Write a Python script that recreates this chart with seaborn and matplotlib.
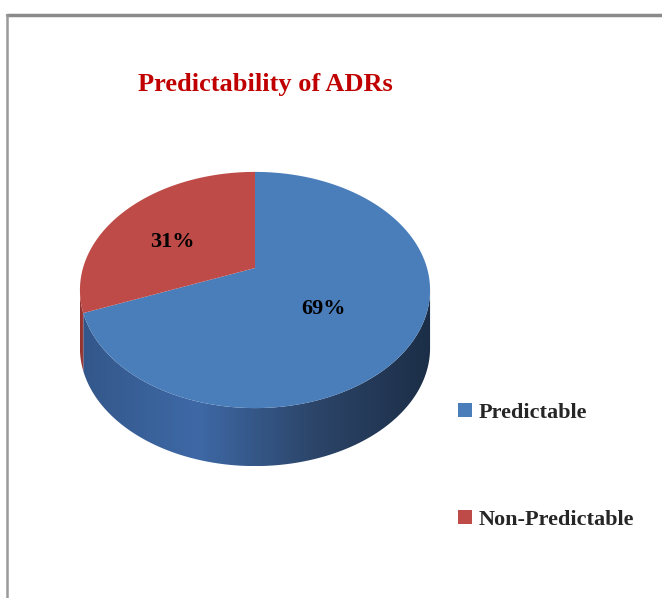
import numpy as np
import seaborn as sns
import matplotlib.pyplot as plt
import matplotlib.transforms as mtransforms
from matplotlib.colors import LinearSegmentedColormap
from matplotlib.patches import Polygon
from matplotlib.lines import Line2D
from matplotlib.path import Path

labels = ['Predictable', 'Non-Predictable']
shares = [69, 31]
pct_labels = ['69%', '31%']
title = 'Predictability of ADRs'

top_colors = ['#4a7ebb', '#be4b48']
side_blue = ['#33578a', '#3e69a6', '#2c4569', '#1c2e47']
side_red = ['#8f3330', '#a33d3a']


class Perspective(mtransforms.Transform):
    """Tilted-disc look: the far half of the pie shrinks, the near half grows."""
    input_dims = output_dims = 2

    def __init__(self, k):
        super().__init__()
        self.k = k

    def transform_non_affine(self, xy):
        xy = np.asarray(xy, dtype=float)
        s = self.k / (self.k + xy[:, 1])
        return np.column_stack([xy[:, 0] * s, xy[:, 1] * s])

    def transform_path_non_affine(self, path):
        # sample every bezier piece densely, then project the points
        pts = np.vstack([seg(np.linspace(0, 1, 60)) for seg, code in path.iter_bezier()])
        return Path(self.transform_non_affine(pts), closed=True)


sns.set_theme(style='white')
plt.rcParams['font.family'] = ['Liberation Serif', 'DejaVu Serif']

W, H = 662, 598
fig = plt.figure(figsize=(W / 100, H / 100), dpi=100)

# pie axes: centre of the disc at (255, 268) px
cx, cy, ux, uy = 255, 268, 172, 114
depth = 58 / uy
x0, x1 = -1.1, 1.1
y0, y1 = -1.3 - depth, 0.95
ax = fig.add_axes([(cx + ux * x0) / W, 1 - (cy - uy * y0) / H,
                   ux * (x1 - x0) / W, uy * (y1 - y0) / H])
persp = Perspective(5.37)

wedges, _ = ax.pie(shares, colors=top_colors, startangle=90, counterclock=False,
                   wedgeprops=dict(linewidth=0), radius=1)
for w in wedges:
    w.set_transform(persp + ax.transData)
    w.set_zorder(3)
ax.set_aspect('auto')
ax.axis('off')

# side wall of the cylinder, between the left and right silhouette points
split = 90 - 360 * shares[0] / sum(shares) + 360
tt = np.linspace(150, 390, 2401)
rim = persp.transform_non_affine(np.column_stack([np.cos(np.radians(tt)), np.sin(np.radians(tt))]))
t_left, t_right = tt[np.argmin(rim[:, 0])], tt[np.argmax(rim[:, 0])]


def side_poly(a, b):
    t = np.radians(np.linspace(a, b, 200))
    top = persp.transform_non_affine(np.column_stack([np.cos(t), np.sin(t)]))
    bot = top[::-1] - [0, depth]
    return np.vstack([top, bot])


grad = np.linspace(0, 1, 256).reshape(1, -1)
for (a, b), cols in [((split, t_right), side_blue), ((t_left, split), side_red)]:
    pts = side_poly(a, b)
    poly = Polygon(pts, closed=True, facecolor='none', edgecolor='none')
    ax.add_patch(poly)
    cmap = LinearSegmentedColormap.from_list('side', cols)
    ext = [-1.02, 1.02] if cols is side_blue else [pts[:, 0].min(), pts[:, 0].max()]
    im = ax.imshow(grad, cmap=cmap, aspect='auto', zorder=2,
                   extent=[ext[0], ext[1], pts[:, 1].min(), pts[:, 1].max()])
    im.set_clip_path(poly)
ax.set_xlim(x0, x1)
ax.set_ylim(y0, y1)

# percentage labels
for w, txt, r in zip(wedges, pct_labels, [0.47, 0.6]):
    ang = np.radians((w.theta1 + w.theta2) / 2)
    px, py = persp.transform_non_affine([[r * np.cos(ang), r * np.sin(ang)]])[0]
    ax.annotate(txt, (px, py), xytext=(-1.5, -7), textcoords='offset points',
                ha='center', va='center', fontsize=16, fontweight='bold',
                color='black', zorder=5)

fig.text(265 / W, 1 - 84 / H, title, ha='center', va='center', fontsize=19,
         fontweight='bold', color='#c00000')

handles = [Line2D([], [], marker='s', linestyle='none', markersize=10,
                  markerfacecolor=c, markeredgewidth=0) for c in top_colors]
fig.legend(handles, labels, loc='upper left', bbox_to_anchor=(434 / W, 1 - 382 / H),
           frameon=False, handletextpad=0.1, labelspacing=3.9, handlelength=1.0,
           prop=dict(family='Liberation Serif', weight='bold', size=16))

# chart frame (top and left edges visible)
fig.add_artist(Line2D([7 / W, 1], [1 - 15 / H, 1 - 15 / H], transform=fig.transFigure,
                      color='#8a8a8a', linewidth=2.5))
fig.add_artist(Line2D([7 / W, 7 / W], [0, 1 - 15 / H], transform=fig.transFigure,
                      color='#9a9a9a', linewidth=1.8))

fig.savefig('out.png', dpi=100, facecolor='white')
